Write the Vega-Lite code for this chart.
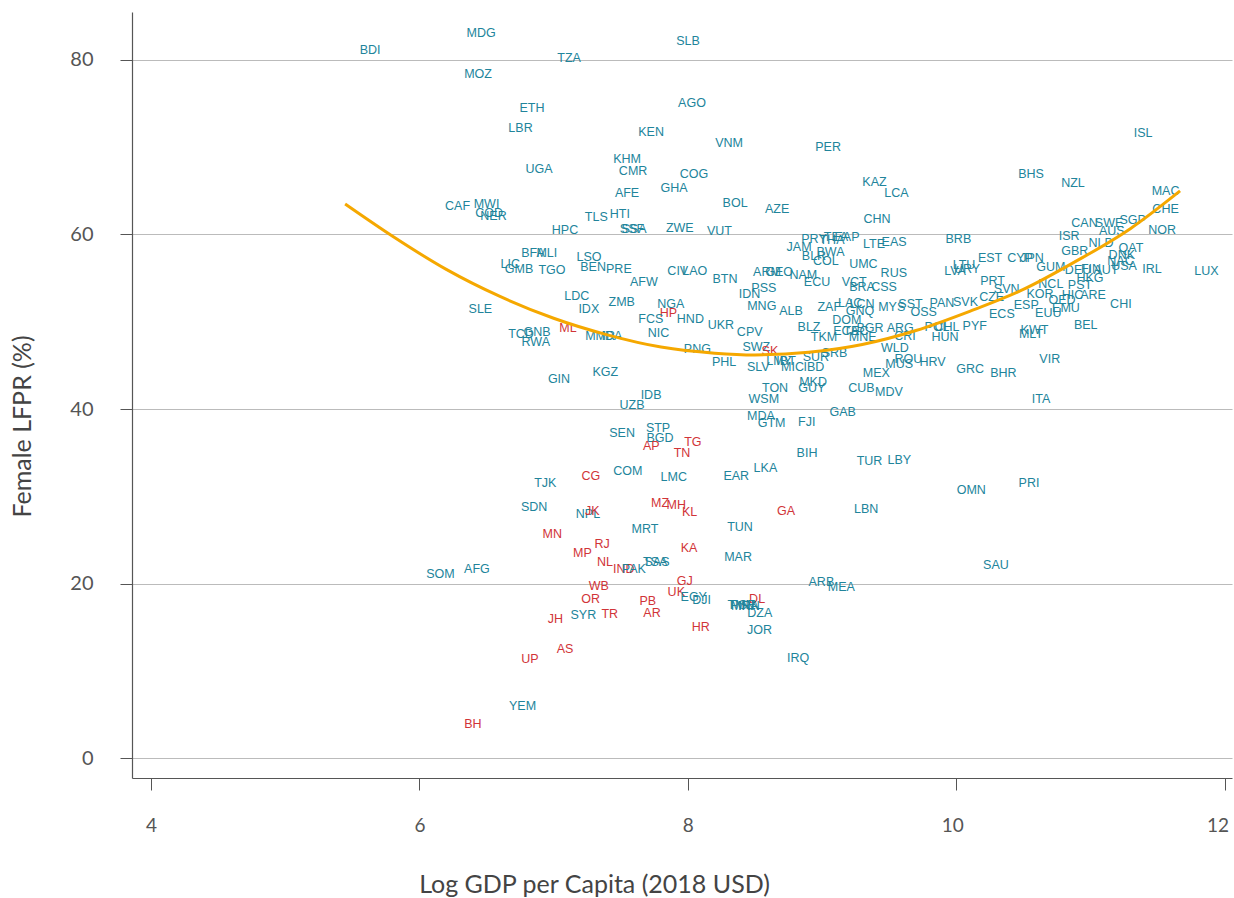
{
  "$schema": "https://vega.github.io/schema/vega-lite/v6.json",
  "width": 1100,
  "height": 766,
  "autosize": {"type": "none"},
  "padding": {"left": 132, "top": 12, "right": 2, "bottom": 120},
  "config": {"view": {"stroke": null}, "font": "Lato", "axis": {"labelFont": "Lato", "titleFont": "Lato"}},
  "datasets": {
    "labels": [
      {"code":"BDI","gdp":5.632,"lfpr":81.09,"group":"country"},
      {"code":"MDG","gdp":6.459,"lfpr":83.09,"group":"country"},
      {"code":"TZA","gdp":7.115,"lfpr":80.23,"group":"country"},
      {"code":"SLB","gdp":8.001,"lfpr":82.21,"group":"country"},
      {"code":"MOZ","gdp":6.437,"lfpr":78.40,"group":"country"},
      {"code":"ETH","gdp":6.839,"lfpr":74.53,"group":"country"},
      {"code":"AGO","gdp":8.031,"lfpr":75.04,"group":"country"},
      {"code":"LBR","gdp":6.753,"lfpr":72.17,"group":"country"},
      {"code":"KEN","gdp":7.726,"lfpr":71.78,"group":"country"},
      {"code":"VNM","gdp":8.307,"lfpr":70.52,"group":"country"},
      {"code":"PER","gdp":9.045,"lfpr":69.99,"group":"country"},
      {"code":"ISL","gdp":11.392,"lfpr":71.60,"group":"country"},
      {"code":"KHM","gdp":7.547,"lfpr":68.62,"group":"country"},
      {"code":"CMR","gdp":7.592,"lfpr":67.24,"group":"country"},
      {"code":"COG","gdp":8.046,"lfpr":66.90,"group":"country"},
      {"code":"UGA","gdp":6.891,"lfpr":67.47,"group":"country"},
      {"code":"KAZ","gdp":9.391,"lfpr":66.05,"group":"country"},
      {"code":"BHS","gdp":10.557,"lfpr":66.90,"group":"country"},
      {"code":"NZL","gdp":10.870,"lfpr":65.87,"group":"country"},
      {"code":"GHA","gdp":7.897,"lfpr":65.29,"group":"country"},
      {"code":"AFE","gdp":7.547,"lfpr":64.72,"group":"country"},
      {"code":"LCA","gdp":9.555,"lfpr":64.70,"group":"country"},
      {"code":"MAC","gdp":11.560,"lfpr":64.99,"group":"country"},
      {"code":"CAF","gdp":6.284,"lfpr":63.27,"group":"country"},
      {"code":"MWI","gdp":6.500,"lfpr":63.50,"group":"country"},
      {"code":"COD","gdp":6.519,"lfpr":62.50,"group":"country"},
      {"code":"NER","gdp":6.552,"lfpr":62.12,"group":"country"},
      {"code":"BOL","gdp":8.352,"lfpr":63.61,"group":"country"},
      {"code":"AZE","gdp":8.665,"lfpr":62.92,"group":"country"},
      {"code":"HTI","gdp":7.493,"lfpr":62.35,"group":"country"},
      {"code":"TLS","gdp":7.318,"lfpr":61.97,"group":"country"},
      {"code":"CHE","gdp":11.560,"lfpr":62.89,"group":"country"},
      {"code":"CHN","gdp":9.410,"lfpr":61.74,"group":"country"},
      {"code":"HPC","gdp":7.085,"lfpr":60.52,"group":"country"},
      {"code":"SSA","gdp":7.599,"lfpr":60.63,"group":"country"},
      {"code":"SSF","gdp":7.584,"lfpr":60.63,"group":"country"},
      {"code":"ZWE","gdp":7.940,"lfpr":60.71,"group":"country"},
      {"code":"VUT","gdp":8.236,"lfpr":60.37,"group":"country"},
      {"code":"CAN","gdp":10.956,"lfpr":61.28,"group":"country"},
      {"code":"SWE","gdp":11.139,"lfpr":61.35,"group":"country"},
      {"code":"SGP","gdp":11.315,"lfpr":61.66,"group":"country"},
      {"code":"NOR","gdp":11.534,"lfpr":60.46,"group":"country"},
      {"code":"AUS","gdp":11.159,"lfpr":60.44,"group":"country"},
      {"code":"PRY","gdp":8.940,"lfpr":59.48,"group":"country"},
      {"code":"THA","gdp":9.074,"lfpr":59.37,"group":"country"},
      {"code":"TEA","gdp":9.104,"lfpr":59.77,"group":"country"},
      {"code":"EAP","gdp":9.186,"lfpr":59.77,"group":"country"},
      {"code":"LTE","gdp":9.387,"lfpr":58.91,"group":"country"},
      {"code":"EAS","gdp":9.537,"lfpr":59.17,"group":"country"},
      {"code":"BRB","gdp":10.016,"lfpr":59.52,"group":"country"},
      {"code":"ISR","gdp":10.841,"lfpr":59.79,"group":"country"},
      {"code":"NLD","gdp":11.079,"lfpr":59.08,"group":"country"},
      {"code":"QAT","gdp":11.302,"lfpr":58.40,"group":"country"},
      {"code":"JAM","gdp":8.829,"lfpr":58.53,"group":"country"},
      {"code":"BFA","gdp":6.846,"lfpr":57.88,"group":"country"},
      {"code":"MLI","gdp":6.949,"lfpr":57.91,"group":"country"},
      {"code":"BLR","gdp":8.940,"lfpr":57.57,"group":"country"},
      {"code":"BWA","gdp":9.063,"lfpr":57.96,"group":"country"},
      {"code":"LSO","gdp":7.264,"lfpr":57.46,"group":"country"},
      {"code":"EST","gdp":10.252,"lfpr":57.31,"group":"country"},
      {"code":"CYP","gdp":10.475,"lfpr":57.31,"group":"country"},
      {"code":"JPN","gdp":10.565,"lfpr":57.31,"group":"country"},
      {"code":"GBR","gdp":10.884,"lfpr":58.07,"group":"country"},
      {"code":"DNK","gdp":11.234,"lfpr":57.65,"group":"country"},
      {"code":"NAC","gdp":11.224,"lfpr":56.96,"group":"country"},
      {"code":"COL","gdp":9.028,"lfpr":56.96,"group":"country"},
      {"code":"UMC","gdp":9.308,"lfpr":56.62,"group":"country"},
      {"code":"LIC","gdp":6.677,"lfpr":56.62,"group":"country"},
      {"code":"GMB","gdp":6.742,"lfpr":56.08,"group":"country"},
      {"code":"TGO","gdp":6.988,"lfpr":55.93,"group":"country"},
      {"code":"BEN","gdp":7.294,"lfpr":56.31,"group":"country"},
      {"code":"PRE","gdp":7.486,"lfpr":56.01,"group":"country"},
      {"code":"CIV","gdp":7.925,"lfpr":55.85,"group":"country"},
      {"code":"LAO","gdp":8.051,"lfpr":55.85,"group":"country"},
      {"code":"BTN","gdp":8.277,"lfpr":54.93,"group":"country"},
      {"code":"ARM","gdp":8.590,"lfpr":55.70,"group":"country"},
      {"code":"GEO","gdp":8.680,"lfpr":55.70,"group":"country"},
      {"code":"NAM","gdp":8.861,"lfpr":55.36,"group":"country"},
      {"code":"RUS","gdp":9.535,"lfpr":55.55,"group":"country"},
      {"code":"LTU","gdp":10.058,"lfpr":56.50,"group":"country"},
      {"code":"LVA","gdp":9.991,"lfpr":55.82,"group":"country"},
      {"code":"URY","gdp":10.080,"lfpr":56.10,"group":"country"},
      {"code":"GUM","gdp":10.705,"lfpr":56.31,"group":"country"},
      {"code":"DEU","gdp":10.908,"lfpr":55.93,"group":"country"},
      {"code":"FIN","gdp":11.004,"lfpr":56.05,"group":"country"},
      {"code":"AUT","gdp":11.116,"lfpr":55.93,"group":"country"},
      {"code":"USA","gdp":11.250,"lfpr":56.39,"group":"country"},
      {"code":"IRL","gdp":11.459,"lfpr":56.01,"group":"country"},
      {"code":"LUX","gdp":11.865,"lfpr":55.82,"group":"country"},
      {"code":"ECU","gdp":8.963,"lfpr":54.52,"group":"country"},
      {"code":"VCT","gdp":9.240,"lfpr":54.59,"group":"country"},
      {"code":"BRA","gdp":9.298,"lfpr":53.95,"group":"country"},
      {"code":"CSS","gdp":9.462,"lfpr":53.95,"group":"country"},
      {"code":"PRT","gdp":10.271,"lfpr":54.67,"group":"country"},
      {"code":"SVN","gdp":10.376,"lfpr":53.79,"group":"country"},
      {"code":"NCL","gdp":10.705,"lfpr":54.33,"group":"country"},
      {"code":"PST","gdp":10.922,"lfpr":54.21,"group":"country"},
      {"code":"HKG","gdp":10.997,"lfpr":55.05,"group":"country"},
      {"code":"AFW","gdp":7.672,"lfpr":54.52,"group":"country"},
      {"code":"PSS","gdp":8.566,"lfpr":53.83,"group":"country"},
      {"code":"IDN","gdp":8.460,"lfpr":53.15,"group":"country"},
      {"code":"LDC","gdp":7.173,"lfpr":52.99,"group":"country"},
      {"code":"ZMB","gdp":7.507,"lfpr":52.23,"group":"country"},
      {"code":"NGA","gdp":7.873,"lfpr":52.00,"group":"country"},
      {"code":"ALB","gdp":8.769,"lfpr":51.27,"group":"country"},
      {"code":"ZAF","gdp":9.054,"lfpr":51.66,"group":"country"},
      {"code":"LAC","gdp":9.209,"lfpr":52.11,"group":"country"},
      {"code":"LCN","gdp":9.298,"lfpr":52.03,"group":"country"},
      {"code":"MNG","gdp":8.551,"lfpr":51.84,"group":"country"},
      {"code":"SST","gdp":9.659,"lfpr":52.00,"group":"country"},
      {"code":"PAN","gdp":9.894,"lfpr":52.18,"group":"country"},
      {"code":"SVK","gdp":10.069,"lfpr":52.30,"group":"country"},
      {"code":"CZE","gdp":10.264,"lfpr":52.80,"group":"country"},
      {"code":"KOR","gdp":10.624,"lfpr":53.15,"group":"country"},
      {"code":"HIC","gdp":10.867,"lfpr":53.07,"group":"country"},
      {"code":"ARE","gdp":11.019,"lfpr":53.07,"group":"country"},
      {"code":"CHI","gdp":11.227,"lfpr":52.00,"group":"country"},
      {"code":"IDX","gdp":7.262,"lfpr":51.46,"group":"country"},
      {"code":"HP","gdp":7.855,"lfpr":51.04,"group":"state"},
      {"code":"MYS","gdp":9.519,"lfpr":51.66,"group":"country"},
      {"code":"OSS","gdp":9.758,"lfpr":51.15,"group":"country"},
      {"code":"GNQ","gdp":9.283,"lfpr":51.23,"group":"country"},
      {"code":"ESP","gdp":10.522,"lfpr":51.92,"group":"country"},
      {"code":"OED","gdp":10.788,"lfpr":52.49,"group":"country"},
      {"code":"EUU","gdp":10.686,"lfpr":50.97,"group":"country"},
      {"code":"EMU","gdp":10.818,"lfpr":51.54,"group":"country"},
      {"code":"ECS","gdp":10.340,"lfpr":50.89,"group":"country"},
      {"code":"SLE","gdp":6.454,"lfpr":51.46,"group":"country"},
      {"code":"FCS","gdp":7.724,"lfpr":50.28,"group":"country"},
      {"code":"HND","gdp":8.019,"lfpr":50.28,"group":"country"},
      {"code":"DOM","gdp":9.184,"lfpr":50.20,"group":"country"},
      {"code":"BLZ","gdp":8.903,"lfpr":49.36,"group":"country"},
      {"code":"ECA","gdp":9.179,"lfpr":48.94,"group":"country"},
      {"code":"TEC","gdp":9.253,"lfpr":48.94,"group":"country"},
      {"code":"BGR","gdp":9.358,"lfpr":49.32,"group":"country"},
      {"code":"ARG","gdp":9.583,"lfpr":49.32,"group":"country"},
      {"code":"POL","gdp":9.857,"lfpr":49.40,"group":"country"},
      {"code":"CHL","gdp":9.931,"lfpr":49.40,"group":"country"},
      {"code":"PYF","gdp":10.138,"lfpr":49.55,"group":"country"},
      {"code":"UKR","gdp":8.246,"lfpr":49.63,"group":"country"},
      {"code":"BEL","gdp":10.965,"lfpr":49.59,"group":"country"},
      {"code":"TCD","gdp":6.757,"lfpr":48.60,"group":"country"},
      {"code":"GNB","gdp":6.876,"lfpr":48.79,"group":"country"},
      {"code":"ML","gdp":7.107,"lfpr":49.32,"group":"state"},
      {"code":"MMR","gdp":7.346,"lfpr":48.40,"group":"country"},
      {"code":"IDA","gdp":7.435,"lfpr":48.40,"group":"country"},
      {"code":"NIC","gdp":7.782,"lfpr":48.68,"group":"country"},
      {"code":"TKM","gdp":9.015,"lfpr":48.22,"group":"country"},
      {"code":"MNE","gdp":9.303,"lfpr":48.29,"group":"country"},
      {"code":"CRI","gdp":9.618,"lfpr":48.37,"group":"country"},
      {"code":"HUN","gdp":9.916,"lfpr":48.29,"group":"country"},
      {"code":"KWT","gdp":10.583,"lfpr":49.05,"group":"country"},
      {"code":"MLT","gdp":10.557,"lfpr":48.60,"group":"country"},
      {"code":"RWA","gdp":6.867,"lfpr":47.64,"group":"country"},
      {"code":"CPV","gdp":8.461,"lfpr":48.79,"group":"country"},
      {"code":"PNG","gdp":8.071,"lfpr":46.88,"group":"country"},
      {"code":"SWZ","gdp":8.510,"lfpr":47.07,"group":"country"},
      {"code":"SK","gdp":8.612,"lfpr":46.65,"group":"state"},
      {"code":"WLD","gdp":9.542,"lfpr":46.96,"group":"country"},
      {"code":"SRB","gdp":9.093,"lfpr":46.45,"group":"country"},
      {"code":"SUR","gdp":8.954,"lfpr":46.00,"group":"country"},
      {"code":"VIR","gdp":10.697,"lfpr":45.70,"group":"country"},
      {"code":"PHL","gdp":8.270,"lfpr":45.35,"group":"country"},
      {"code":"LMY","gdp":8.680,"lfpr":45.50,"group":"country"},
      {"code":"IBT","gdp":8.732,"lfpr":45.50,"group":"country"},
      {"code":"MIC","gdp":8.780,"lfpr":44.78,"group":"country"},
      {"code":"IBD","gdp":8.940,"lfpr":44.78,"group":"country"},
      {"code":"MUS","gdp":9.575,"lfpr":45.16,"group":"country"},
      {"code":"ROU","gdp":9.643,"lfpr":45.70,"group":"country"},
      {"code":"HRV","gdp":9.823,"lfpr":45.42,"group":"country"},
      {"code":"SLV","gdp":8.525,"lfpr":44.78,"group":"country"},
      {"code":"KGZ","gdp":7.385,"lfpr":44.28,"group":"country"},
      {"code":"GRC","gdp":10.103,"lfpr":44.55,"group":"country"},
      {"code":"GIN","gdp":7.040,"lfpr":43.47,"group":"country"},
      {"code":"MEX","gdp":9.405,"lfpr":44.09,"group":"country"},
      {"code":"BHR","gdp":10.351,"lfpr":44.13,"group":"country"},
      {"code":"TON","gdp":8.650,"lfpr":42.41,"group":"country"},
      {"code":"MKD","gdp":8.933,"lfpr":43.13,"group":"country"},
      {"code":"GUY","gdp":8.923,"lfpr":42.44,"group":"country"},
      {"code":"CUB","gdp":9.293,"lfpr":42.37,"group":"country"},
      {"code":"MDV","gdp":9.499,"lfpr":41.98,"group":"country"},
      {"code":"IDB","gdp":7.726,"lfpr":41.66,"group":"country"},
      {"code":"WSM","gdp":8.566,"lfpr":41.09,"group":"country"},
      {"code":"UZB","gdp":7.584,"lfpr":40.49,"group":"country"},
      {"code":"ITA","gdp":10.632,"lfpr":41.15,"group":"country"},
      {"code":"GAB","gdp":9.154,"lfpr":39.62,"group":"country"},
      {"code":"MDA","gdp":8.545,"lfpr":39.23,"group":"country"},
      {"code":"GTM","gdp":8.624,"lfpr":38.43,"group":"country"},
      {"code":"FJI","gdp":8.886,"lfpr":38.48,"group":"country"},
      {"code":"SEN","gdp":7.510,"lfpr":37.21,"group":"country"},
      {"code":"STP","gdp":7.778,"lfpr":37.79,"group":"country"},
      {"code":"BGD","gdp":7.793,"lfpr":36.71,"group":"country"},
      {"code":"AP","gdp":7.728,"lfpr":35.79,"group":"state"},
      {"code":"TG","gdp":8.037,"lfpr":36.25,"group":"state"},
      {"code":"TN","gdp":7.957,"lfpr":34.92,"group":"state"},
      {"code":"BIH","gdp":8.888,"lfpr":34.92,"group":"country"},
      {"code":"LKA","gdp":8.578,"lfpr":33.20,"group":"country"},
      {"code":"TUR","gdp":9.354,"lfpr":34.04,"group":"country"},
      {"code":"LBY","gdp":9.576,"lfpr":34.15,"group":"country"},
      {"code":"CG","gdp":7.277,"lfpr":32.36,"group":"state"},
      {"code":"COM","gdp":7.553,"lfpr":32.93,"group":"country"},
      {"code":"LMC","gdp":7.895,"lfpr":32.17,"group":"country"},
      {"code":"EAR","gdp":8.361,"lfpr":32.36,"group":"country"},
      {"code":"TJK","gdp":6.938,"lfpr":31.48,"group":"country"},
      {"code":"OMN","gdp":10.112,"lfpr":30.72,"group":"country"},
      {"code":"PRI","gdp":10.542,"lfpr":31.52,"group":"country"},
      {"code":"MZ","gdp":7.793,"lfpr":29.19,"group":"state"},
      {"code":"MH","gdp":7.914,"lfpr":29.00,"group":"state"},
      {"code":"SDN","gdp":6.855,"lfpr":28.73,"group":"country"},
      {"code":"NPL","gdp":7.256,"lfpr":27.97,"group":"country"},
      {"code":"JK","gdp":7.288,"lfpr":28.31,"group":"state"},
      {"code":"KL","gdp":8.013,"lfpr":28.23,"group":"state"},
      {"code":"GA","gdp":8.732,"lfpr":28.31,"group":"state"},
      {"code":"LBN","gdp":9.329,"lfpr":28.50,"group":"country"},
      {"code":"MRT","gdp":7.681,"lfpr":26.21,"group":"country"},
      {"code":"TUN","gdp":8.389,"lfpr":26.51,"group":"country"},
      {"code":"MN","gdp":6.990,"lfpr":25.64,"group":"state"},
      {"code":"RJ","gdp":7.361,"lfpr":24.49,"group":"state"},
      {"code":"KA","gdp":8.009,"lfpr":24.03,"group":"state"},
      {"code":"MP","gdp":7.215,"lfpr":23.53,"group":"state"},
      {"code":"MAR","gdp":8.374,"lfpr":23.00,"group":"country"},
      {"code":"NL","gdp":7.382,"lfpr":22.43,"group":"state"},
      {"code":"IND","gdp":7.522,"lfpr":21.63,"group":"state"},
      {"code":"PAK","gdp":7.598,"lfpr":21.70,"group":"country"},
      {"code":"TSA","gdp":7.756,"lfpr":22.50,"group":"country"},
      {"code":"SAS","gdp":7.770,"lfpr":22.50,"group":"country"},
      {"code":"SAU","gdp":10.296,"lfpr":22.09,"group":"country"},
      {"code":"SOM","gdp":6.157,"lfpr":21.09,"group":"country"},
      {"code":"AFG","gdp":6.428,"lfpr":21.63,"group":"country"},
      {"code":"GJ","gdp":7.977,"lfpr":20.32,"group":"state"},
      {"code":"WB","gdp":7.336,"lfpr":19.75,"group":"state"},
      {"code":"ARB","gdp":8.995,"lfpr":20.14,"group":"country"},
      {"code":"MEA","gdp":9.144,"lfpr":19.63,"group":"country"},
      {"code":"UK","gdp":7.914,"lfpr":19.06,"group":"state"},
      {"code":"EGY","gdp":8.044,"lfpr":18.42,"group":"country"},
      {"code":"DJI","gdp":8.102,"lfpr":18.11,"group":"country"},
      {"code":"OR","gdp":7.275,"lfpr":18.26,"group":"state"},
      {"code":"PB","gdp":7.702,"lfpr":18.03,"group":"state"},
      {"code":"DL","gdp":8.516,"lfpr":18.19,"group":"state"},
      {"code":"TMN","gdp":8.396,"lfpr":17.54,"group":"country"},
      {"code":"MNA","gdp":8.426,"lfpr":17.42,"group":"country"},
      {"code":"IRN","gdp":8.456,"lfpr":17.42,"group":"country"},
      {"code":"PSE","gdp":8.411,"lfpr":17.54,"group":"country"},
      {"code":"JH","gdp":7.013,"lfpr":15.90,"group":"state"},
      {"code":"SYR","gdp":7.221,"lfpr":16.36,"group":"country"},
      {"code":"TR","gdp":7.418,"lfpr":16.47,"group":"state"},
      {"code":"AR","gdp":7.733,"lfpr":16.58,"group":"state"},
      {"code":"DZA","gdp":8.536,"lfpr":16.58,"group":"country"},
      {"code":"HR","gdp":8.097,"lfpr":14.98,"group":"state"},
      {"code":"JOR","gdp":8.534,"lfpr":14.67,"group":"country"},
      {"code":"IRQ","gdp":8.821,"lfpr":11.46,"group":"country"},
      {"code":"AS","gdp":7.085,"lfpr":12.49,"group":"state"},
      {"code":"UP","gdp":6.824,"lfpr":11.35,"group":"state"},
      {"code":"YEM","gdp":6.768,"lfpr":5.96,"group":"country"},
      {"code":"BH","gdp":6.398,"lfpr":3.90,"group":"state"}
    ],
    "fit": [
      {"gdp":5.446,"lfpr":63.5},
      {"gdp":5.8,"lfpr":59.8},
      {"gdp":6.2,"lfpr":56.0},
      {"gdp":6.6,"lfpr":52.9},
      {"gdp":7.0,"lfpr":50.4},
      {"gdp":7.4,"lfpr":48.5},
      {"gdp":7.8,"lfpr":47.1},
      {"gdp":8.2,"lfpr":46.4},
      {"gdp":8.5,"lfpr":46.2},
      {"gdp":8.9,"lfpr":46.5},
      {"gdp":9.3,"lfpr":47.4},
      {"gdp":9.7,"lfpr":49.0},
      {"gdp":10.1,"lfpr":51.2},
      {"gdp":10.5,"lfpr":53.7},
      {"gdp":10.9,"lfpr":57.0},
      {"gdp":11.3,"lfpr":60.7},
      {"gdp":11.668,"lfpr":65.0}
    ]
  },
  "layer": [
    {
      "data": {"name": "labels"},
      "mark": {"type": "text", "fontSize": 12.5, "font": "Liberation Sans", "baseline": "middle", "align": "center"},
      "encoding": {
        "x": {
          "field": "gdp", "type": "quantitative",
          "scale": {"domain": [3.858, 12.055], "nice": false, "zero": false},
          "axis": {
            "title": "Log GDP per Capita (2018 USD)",
            "values": [4, 6, 8, 10, 12],
            "format": "d",
            "grid": false,
            "tickSize": 12, "tickColor": "#555", "tickWidth": 1,
            "domainColor": "#555", "domainWidth": 1.2,
            "labelFontSize": 19, "labelColor": "#555", "labelPadding": 26,
            "labelAlign": {"expr": "datum.value == 12 ? 'right' : 'center'"},
            "labelOffset": {"expr": "datum.value == 12 ? 4 : (datum.value == 10 ? -4 : 0)"},
            "titleFontSize": 25, "titleColor": "#444", "titleFontWeight": "normal",
            "titleX": 462, "titleY": 106, "titleBaseline": "middle", "titleAlign": "center"
          }
        },
        "y": {
          "field": "lfpr", "type": "quantitative",
          "scale": {"domain": [-2.29, 85.5], "nice": false, "zero": false},
          "axis": {
            "title": "Female LFPR (%)",
            "values": [0, 20, 40, 60, 80],
            "format": "d",
            "grid": true, "gridColor": "#bbbbbb", "gridWidth": 1,
            "tickSize": 12, "tickColor": "#555", "tickWidth": 1,
            "domainColor": "#555", "domainWidth": 1.2,
            "labelFontSize": 20, "labelColor": "#555", "labelPadding": 27,
            "titleFontSize": 25, "titleColor": "#444", "titleFontWeight": "normal",
            "titleAngle": 270, "titleX": -110, "titleY": 414, "titleBaseline": "middle", "titleAlign": "center"
          }
        },
        "text": {"field": "code"},
        "color": {"field": "group", "type": "nominal", "scale": {"domain": ["country", "state"], "range": ["#21849b", "#d13438"]}, "legend": null}
      }
    },
    {
      "data": {"name": "fit"},
      "mark": {"type": "line", "color": "#f5a800", "strokeWidth": 3, "interpolate": "monotone"},
      "encoding": {
        "x": {"field": "gdp", "type": "quantitative"},
        "y": {"field": "lfpr", "type": "quantitative"}
      }
    }
  ]
}
